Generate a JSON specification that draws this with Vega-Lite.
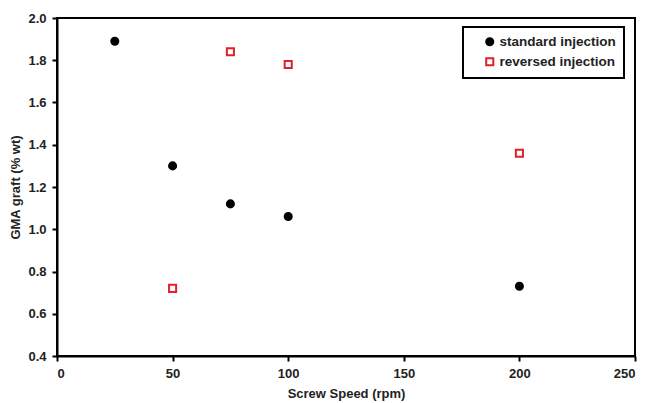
{
  "$schema": "https://vega.github.io/schema/vega-lite/v6.json",
  "width": 578,
  "height": 338,
  "autosize": "none",
  "padding": {"left": 57, "top": 18, "right": 15, "bottom": 47},
  "background": "white",
  "config": {
    "font": "Liberation Sans",
    "view": {"stroke": "black", "strokeWidth": 2},
    "axis": {
      "domainColor": "black", "domainWidth": 2, "tickColor": "black", "tickWidth": 2, "tickSize": 5,
      "labelFont": "Liberation Sans", "labelFontWeight": "bold", "labelFontSize": 13, "labelColor": "#222",
      "titleFont": "Liberation Sans", "titleFontWeight": "bold", "titleFontSize": 13, "titleColor": "#222",
      "grid": false
    },
    "legend": {
      "orient": "none", "legendX": 406, "legendY": 9,
      "strokeColor": "black", "strokeWidth": 2, "fillColor": "white", "padding": 8,
      "labelFont": "Liberation Sans", "labelFontWeight": "bold", "labelFontSize": 13.5, "labelColor": "#222",
      "labelOffset": 3, "symbolOffset": 12,
      "rowPadding": 4, "symbolSize": 50, "symbolStrokeWidth": 2, "title": null
    }
  },
  "data": {"values": [
    {"speed": 25, "graft": 1.89, "series": "standard injection"},
    {"speed": 50, "graft": 1.30, "series": "standard injection"},
    {"speed": 75, "graft": 1.12, "series": "standard injection"},
    {"speed": 100, "graft": 1.06, "series": "standard injection"},
    {"speed": 200, "graft": 0.73, "series": "standard injection"},
    {"speed": 50, "graft": 0.72, "series": "reversed injection"},
    {"speed": 75, "graft": 1.84, "series": "reversed injection"},
    {"speed": 100, "graft": 1.78, "series": "reversed injection"},
    {"speed": 200, "graft": 1.36, "series": "reversed injection"}
  ]},
  "mark": {"type": "point", "filled": false, "strokeWidth": 2, "opacity": 1, "size": 50},
  "encoding": {
    "x": {"field": "speed", "type": "quantitative", "title": "Screw Speed (rpm)",
      "scale": {"domain": [0, 250], "nice": false}, "axis": {"values": [0, 50, 100, 150, 200, 250], "titlePadding": 7, "labelPadding": 6}},
    "y": {"field": "graft", "type": "quantitative", "title": "GMA graft (% wt)",
      "scale": {"domain": [0.4, 2.0], "nice": false, "zero": false},
      "axis": {"values": [0.4, 0.6, 0.8, 1.0, 1.2, 1.4, 1.6, 1.8, 2.0], "format": ".1f", "labelPadding": 6, "titlePadding": 5}},
    "shape": {"field": "series", "type": "nominal", "title": null,
      "scale": {"domain": ["standard injection", "reversed injection"], "range": ["circle", "square"]}},
    "fill": {"field": "series", "type": "nominal", "title": null,
      "scale": {"domain": ["standard injection", "reversed injection"], "range": ["black", "white"]}},
    "stroke": {"field": "series", "type": "nominal", "title": null,
      "scale": {"domain": ["standard injection", "reversed injection"], "range": ["black", "#e0202a"]}}
  }
}
